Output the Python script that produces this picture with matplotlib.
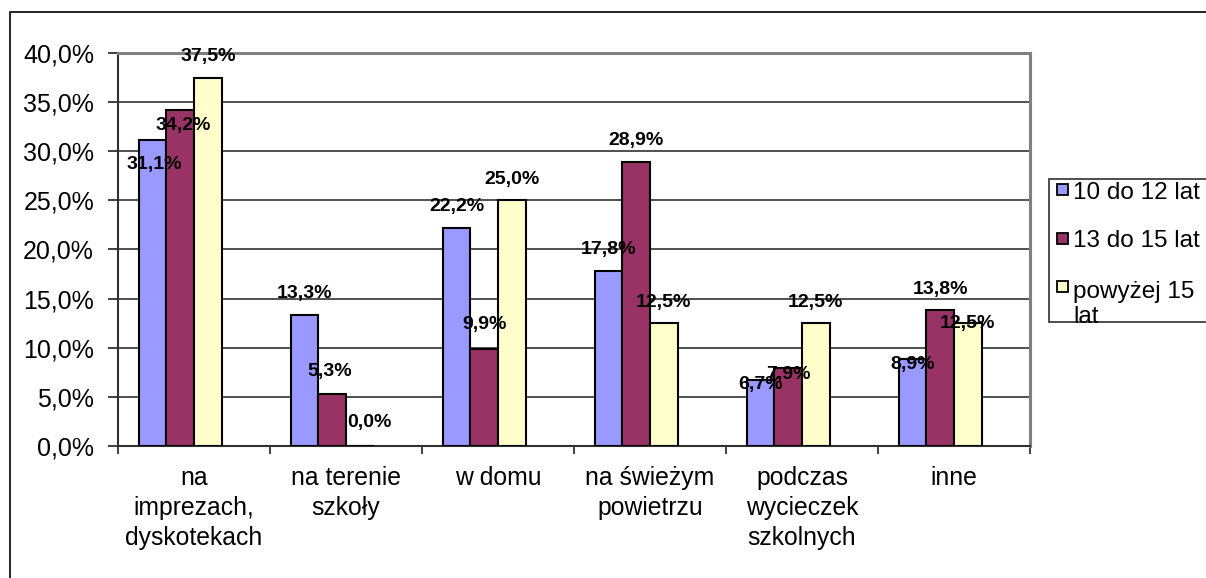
import numpy as np
import matplotlib
matplotlib.use('Agg')
import matplotlib.pyplot as plt
from matplotlib.patches import Rectangle

plt.rcParams['font.family'] = ['Liberation Sans', 'DejaVu Sans']

categories = ['na\nimprezach,\ndyskotekach', 'na terenie\nszkoły', 'w domu',
              'na świeżym\npowietrzu', 'podczas\nwycieczek\nszkolnych', 'inne']
series_names = ['10 do 12 lat', '13 do 15 lat', 'powyżej 15\nlat']
age_10_12 = [31.1, 13.3, 22.2, 17.8, 6.7, 8.9]
age_13_15 = [34.2, 5.3, 9.9, 28.9, 7.9, 13.8]
age_over_15 = [37.5, 0.0, 25.0, 12.5, 12.5, 12.5]
y_ticks = [0, 5, 10, 15, 20, 25, 30, 35, 40]

colors = ['#9999FF', '#993366', '#FFFFCC']

# label offsets (pixels) as the labels sit in the original chart
label_dy = [[-24, -16, 21], [22, 22, 24], [21, 24, 21],
            [22, 22, 21], [-4, -6, 21], [-6, 21, 0]]
label_dx = [[2, 3, 0], [0, -2, 10], [0, 0, 0],
            [0, 0, 0], [0, 0, 0], [0, 0, 0]]

W, H = 1206, 578
fig = plt.figure(figsize=(W / 100, H / 100), dpi=100)
ax = fig.add_axes([118 / W, 1 - 446 / H, (1030 - 118) / W, (446 - 53) / H])

# outer chart frame (only left and top visible in the crop)
fig.patches.append(Rectangle((10 / W, -0.1), 1.2, 1 - 12 / H + 0.1,
                             transform=fig.transFigure, fill=False,
                             edgecolor='black', linewidth=1.2))

n_slots = 4  # excel layout: 3 series + one empty slot, gap 150%
w = 1 / (n_slots + 1.5)
x = np.arange(len(categories))
all_series = [age_10_12, age_13_15, age_over_15]

for k, vals in enumerate(all_series):
    left = x + 0.75 * w + k * w
    bars = ax.bar(left, vals, width=w, align='edge', color=colors[k],
                  edgecolor='black', linewidth=1.5, zorder=3)
    for i, (b, v) in enumerate(zip(bars, vals)):
        ax.annotate(f'{v:.1f}%'.replace('.', ','),
                    (b.get_x() + b.get_width() / 2, v),
                    xytext=(label_dx[i][k] * 0.72, label_dy[i][k] * 0.72),
                    textcoords='offset points', ha='center', va='center',
                    fontsize=14, fontweight='bold', zorder=5)

ax.set_xlim(0, len(categories))
ax.set_ylim(0, 40)
ax.set_yticks(y_ticks)
ax.set_yticklabels([f'{t:.1f}%'.replace('.', ',') for t in y_ticks])
ax.yaxis.grid(True, color='#202020', linewidth=1.1, zorder=1)

ax.set_xticks(np.arange(len(categories) + 1))
ax.set_xticklabels([])
ax.set_xticks(x + 0.5, minor=True)
ax.set_xticklabels(categories, minor=True, fontsize=17.8, linespacing=1.3)
ax.tick_params(axis='x', which='minor', length=0, pad=14.5)
ax.tick_params(axis='x', which='major', length=5.8, width=1.3, color='#303030')
ax.tick_params(axis='y', length=7.2, width=1.3, color='#303030', labelsize=18, pad=10)

for s in ['left', 'bottom']:
    ax.spines[s].set_color('#303030')
    ax.spines[s].set_linewidth(1.5)
for s in ['top', 'right']:
    ax.spines[s].set_color('#808080')
    ax.spines[s].set_linewidth(2.2)

# legend drawn by hand (Excel style, box runs past the right edge)
fig.patches.append(Rectangle((1049 / W, 1 - 322 / H), 200 / W, (322 - 179) / H,
                             transform=fig.transFigure, facecolor='white',
                             edgecolor='#404040', linewidth=1.3))
square_y = [189, 238, 286]
text_base = [199, 247, 323]  # baseline of last line of each legend entry
for k, name in enumerate(series_names):
    cy = square_y[k]
    fig.patches.append(Rectangle((1057 / W, 1 - (cy + 5.5) / H), 11 / W, 11 / H,
                                 transform=fig.transFigure, facecolor=colors[k],
                                 edgecolor='black', linewidth=1.3, zorder=4))
    fig.text(1073 / W, 1 - text_base[k] / H, name, fontsize=17.5, ha='left',
             va='baseline', linespacing=1.18)

fig.savefig('out.png', dpi=100)
